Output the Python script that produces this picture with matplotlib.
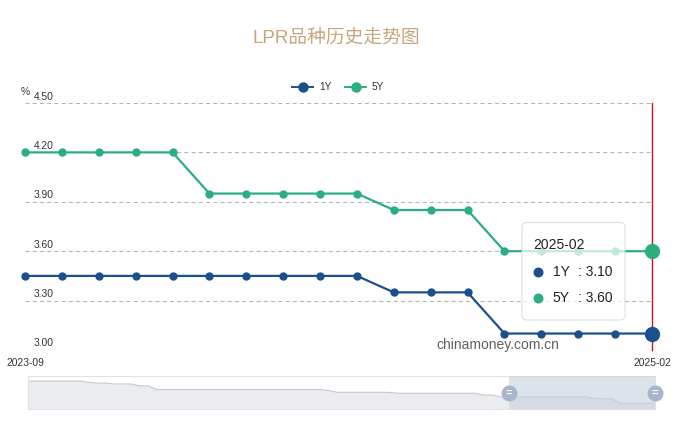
import matplotlib
matplotlib.use('Agg')
import matplotlib.pyplot as plt
from matplotlib.patches import FancyBboxPatch
from matplotlib import transforms as mtrans

plt.rcParams['font.family'] = ['Liberation Sans', 'Noto Sans CJK SC', 'DejaVu Sans']

# ---------------- data ----------------
months = ['2023-09', '2023-10', '2023-11', '2023-12', '2024-01', '2024-02',
          '2024-03', '2024-04', '2024-05', '2024-06', '2024-07', '2024-08',
          '2024-09', '2024-10', '2024-11', '2024-12', '2025-01', '2025-02']
lpr_1y = [3.45, 3.45, 3.45, 3.45, 3.45, 3.45, 3.45, 3.45, 3.45, 3.45,
          3.35, 3.35, 3.35, 3.10, 3.10, 3.10, 3.10, 3.10]
lpr_5y = [4.20, 4.20, 4.20, 4.20, 4.20, 3.95, 3.95, 3.95, 3.95, 3.95,
          3.85, 3.85, 3.85, 3.60, 3.60, 3.60, 3.60, 3.60]
series_names = ['1Y', '5Y']
y_ticks = [3.00, 3.30, 3.60, 3.90, 4.20, 4.50]

# overview (data-zoom slider) series, monthly 2019-01 .. 2025-02
overview_1y = [4.31, 4.31, 4.31, 4.31, 4.31, 4.31, 4.31, 4.25, 4.20, 4.20,
               4.15, 4.15, 4.15, 4.05, 4.05, 3.85, 3.85, 3.85, 3.85, 3.85,
               3.85, 3.85, 3.85, 3.85, 3.85, 3.85, 3.85, 3.85, 3.85, 3.85,
               3.85, 3.85, 3.85, 3.85, 3.85, 3.80, 3.70, 3.70, 3.70, 3.70,
               3.70, 3.70, 3.70, 3.65, 3.65, 3.65, 3.65, 3.65, 3.65, 3.65,
               3.65, 3.65, 3.65, 3.55, 3.55, 3.45, 3.45, 3.45, 3.45, 3.45,
               3.45, 3.45, 3.45, 3.45, 3.45, 3.45, 3.35, 3.35, 3.35, 3.10,
               3.10, 3.10, 3.10, 3.10]
window_start = len(overview_1y) - len(months)

C1 = '#1c508c'
C5 = '#2aaf7d'
TEXT = '#333333'

W, H = 682, 422
fig = plt.figure(figsize=(W / 100, H / 100), dpi=100)


def fr(x0, y0, x1, y1):
    return [x0 / W, 1 - y1 / H, (x1 - x0) / W, (y1 - y0) / H]


# ---------------- main chart ----------------
ax = fig.add_axes(fr(25, 103, 652, 350))
x = list(range(len(months)))
ax.set_xlim(0, len(months) - 1)
ax.set_ylim(y_ticks[0], y_ticks[-1])
for s in ax.spines.values():
    s.set_visible(False)
ax.set_xticks([])
ax.set_yticks([])

for v in y_ticks:
    ax.axhline(v, color='#b4b4b4', lw=0.8, dashes=(3.6, 2.9), zorder=1)

ylab_tr = mtrans.offset_copy(mtrans.blended_transform_factory(ax.transAxes, ax.transData),
                             fig=fig, x=9, y=1.5, units='dots')
for v in y_ticks:
    ax.text(0, v, f'{v:.2f}', transform=ylab_tr, ha='left', va='bottom',
            fontsize=7.4, color=TEXT)

xlab_tr = mtrans.offset_copy(ax.transData, fig=fig, x=0, y=-13.5, units='dots')
ax.text(x[0], y_ticks[0], months[0], transform=xlab_tr, ha='center', va='center',
        fontsize=7.4, color=TEXT)
ax.text(x[-1], y_ticks[0], months[-1], transform=xlab_tr, ha='center', va='center',
        fontsize=7.4, color=TEXT)

ax.axvline(x[-1], color='#d0101b', lw=1.0, zorder=2, clip_on=False)

for vals, col in ((lpr_1y, C1), (lpr_5y, C5)):
    ax.plot(x, vals, color=col, lw=1.6, marker='o', ms=5, clip_on=False, zorder=3)
    ax.plot(x[-1], vals[-1], 'o', color=col, ms=10, clip_on=False, zorder=4)

# ---------------- data zoom slider ----------------
sa = fig.add_axes(fr(28, 375.7, 655, 409.3))
xo = list(range(len(overview_1y)))
sa.set_xlim(0, len(overview_1y) - 1)
sa.set_ylim(2.78, 4.60)
sa.set_xticks([])
sa.set_yticks([])
for s in sa.spines.values():
    s.set_color('#dfe3e8')
    s.set_linewidth(0.8)
sa.fill_between(xo, overview_1y, 2.78, color='#eaecef', lw=0, zorder=1)
sa.plot(xo, overview_1y, color='#c3c7cd', lw=0.8, zorder=2)
sa.axvspan(window_start, len(overview_1y) - 1, color='#c7d1de', alpha=0.6, lw=0, zorder=3)
ymid = (2.78 + 4.60) / 2
for hx in (window_start, len(overview_1y) - 1):
    sa.plot(hx, ymid, 'o', ms=11.5, color='#a7b6cc', mec='none', clip_on=False, zorder=5)
    sa.text(hx, ymid, '=', ha='center', va='center', fontsize=8, color='white',
            fontweight='bold', zorder=6, clip_on=False)

# ---------------- overlay (title, legend, tooltip) ----------------
ov = fig.add_axes([0, 0, 1, 1], facecolor='none')
ov.set_xlim(0, W)
ov.set_ylim(H, 0)
ov.axis('off')

ov.text(336.5, 38, 'LPR品种历史走势图', ha='center', va='center', fontsize=13.5,
        color='#c6a67a')
ov.text(21, 92, '%', ha='left', va='center', fontsize=7.4, color=TEXT)

for (lx, name, col) in ((292, series_names[0], C1), (345, series_names[1], C5)):
    ov.plot([lx, lx + 21], [86.7, 86.7], color=col, lw=1.4)
    ov.plot(lx + 10.5, 86.7, 'o', color=col, ms=6.5)
    ov.text(lx + 27, 87, name, ha='left', va='center', fontsize=7.2, color=TEXT)

ov.text(498, 345, 'chinamoney.com.cn', ha='center', va='center', fontsize=10,
        color='#444444', alpha=0.85)

box = FancyBboxPatch((522, 222.5), 103, 97.5, boxstyle='round,pad=0,rounding_size=5',
                     fc='white', ec='#cfd3d8', lw=0.8, alpha=0.72, zorder=10)
ov.add_patch(box)
ov.text(533, 245, months[-1], ha='left', va='center', fontsize=10, color='#222222', zorder=11)
for ty, name, vals, col in ((271.7, series_names[0], lpr_1y, C1),
                            (298.3, series_names[1], lpr_5y, C5)):
    ov.plot(538, ty, 'o', color=col, ms=6.2, zorder=11)
    ov.text(552.5, ty, name, ha='left', va='center', fontsize=10, color='#222222', zorder=11)
    ov.text(578.5, ty, f': {vals[-1]:.2f}', ha='left', va='center', fontsize=10,
            color='#222222', zorder=11)

fig.savefig('out.png', dpi=100)
